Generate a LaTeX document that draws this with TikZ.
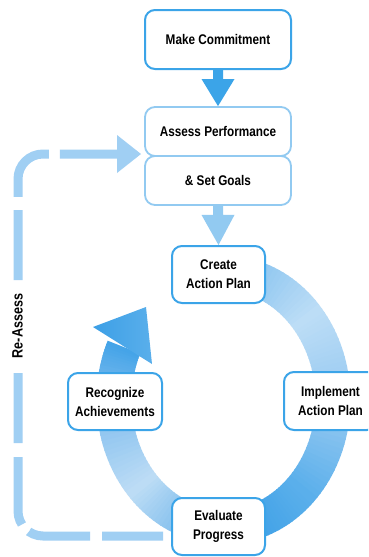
\documentclass[tikz,border=0pt]{standalone}
\usepackage{fontspec}
\setmainfont{Liberation Sans}[FakeStretch=0.84]
\definecolor{dblue}{HTML}{3BA4E8}
\definecolor{lblue}{HTML}{92CAF1}
\definecolor{dashblue}{HTML}{A0CFF3}
\definecolor{k1}{HTML}{80BFEE}
\definecolor{k2}{HTML}{BCDDF6}
\definecolor{k3}{HTML}{98CAF1}
\definecolor{k4}{HTML}{5AAFEB}
\definecolor{k5}{HTML}{3C9FE6}
\definecolor{k6}{HTML}{6CB4EA}
\definecolor{k7}{HTML}{BCDCF5}
\definecolor{k8}{HTML}{7FBDEE}
\definecolor{k9}{HTML}{45A4E8}
\tikzset{
  box/.style={draw=dblue, line width=2pt, fill=white, rounded corners=10pt,
    align=center, font=\bfseries\fontsize{14}{19}\selectfont, inner sep=0pt},
  lbox/.style={box, draw=lblue, line width=1.8pt},
  ringseg/.style={line width=35pt},
  reassess/.style={draw=dashblue, line width=9pt, rounded corners=25pt,
    dash pattern=on 61pt off 12pt on 62pt off 10pt on 68pt off 14pt on 70pt off 93pt on 70pt off 13.3pt on 63pt off 11pt on 57pt off 40pt}
}
\begin{document}
\begin{tikzpicture}[x=1pt,y=-1pt]
\clip (0,0) rectangle (368,557);
\fill[white] (0,0) rectangle (368,557);
% ring
\foreach \sa/\sb/\ca/\cb in {5/50/k1/k2, 50/90/k2/k3, 90/135/k3/k4, 135/170/k4/k5, 170/190/k5/k6, 190/228/k6/k7, 228/270/k7/k8, 270/294/k8/k9}{
  \foreach \i in {0,...,19}{
    \pgfmathsetmacro\ssa{\sa+(\sb-\sa)*\i/20}
    \pgfmathsetmacro\sse{\sa+(\sb-\sa)*(\i+1)/20+0.6}
    \pgfmathtruncatemacro\pp{100*\i/19}
    \draw[ringseg, color=\cb!\pp!\ca] plot[domain=\ssa:\sse, samples=4, variable=\t] ({223.5+109.5*sin(\t)},{400-127*cos(\t)});
  }
}
\shade[left color=k5, right color=k4] (93,327) -- (146,307) -- (152,364) -- cycle;
% boxes
\node[box, minimum width=146pt, minimum height=59pt] (mc) at (218,39.5) {Make Commitment};
\node[lbox, minimum width=146pt, minimum height=49pt] (ap) at (218,131.5) {Assess Performance};
\node[lbox, minimum width=146pt, minimum height=49pt] (sg) at (218,180.5) {\& Set Goals};
\node[box, minimum width=93pt, minimum height=57pt] (ca) at (218.5,274.5) {Create\\Action Plan};
\node[box, minimum width=93pt, minimum height=58pt] (ia) at (330.5,401) {Implement\\Action Plan};
\node[box, minimum width=94pt, minimum height=57pt] (ra) at (115,401.5) {Recognize\\Achievements};
\node[box, minimum width=93pt, minimum height=57pt] (ev) at (218.5,526.5) {Evaluate\\Progress};
% straight arrows
\fill[dblue] ([xshift=-5pt]mc.south) -- ([xshift=-5pt,yshift=-9pt]mc.south) -- ([xshift=-16.5pt,yshift=-9pt]mc.south) -- (ap.north) -- ([xshift=16.5pt,yshift=-9pt]mc.south) -- ([xshift=5pt,yshift=-9pt]mc.south) -- ([xshift=5pt]mc.south) -- cycle;
\fill[lblue] ([xshift=-5pt]sg.south) -- ([xshift=-5pt,yshift=-9pt]sg.south) -- ([xshift=-16.5pt,yshift=-9pt]sg.south) -- (ca.north) -- ([xshift=16.5pt,yshift=-9pt]sg.south) -- ([xshift=5pt,yshift=-9pt]sg.south) -- ([xshift=5pt]sg.south) -- cycle;
% re-assess loop
\coordinate (rs) at (163,536);
\coordinate (re) at (117,154);
\coordinate (rt) at (141,154);
\draw[reassess] (rs) -- (18,536) -- (18,154) -- (re);
\fill[dashblue] ([yshift=19pt]re) -- (rt) -- ([yshift=-19pt]re) -- cycle;
\node[rotate=90, font=\bfseries\fontsize{15}{18}\selectfont] (lab) at (17.5,326) {Re-Assess};
\end{tikzpicture}
\end{document}
